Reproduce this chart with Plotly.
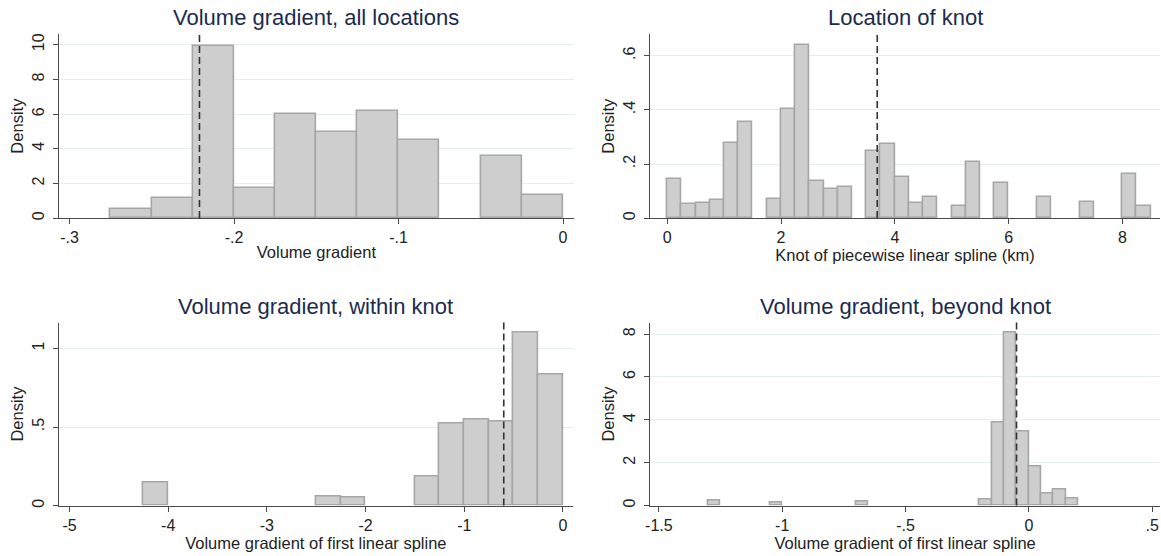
import plotly.graph_objects as go

# ---------------- data ----------------
# Panel 1: Volume gradient, all locations
p1_bin_start = [-0.275, -0.25, -0.225, -0.2, -0.175, -0.15, -0.125, -0.1, -0.05, -0.025]
p1_density = [0.50, 1.15, 9.90, 1.72, 5.97, 4.97, 6.19, 4.51, 3.56, 1.30]
p1_bin_width = 0.025
p1_median = -0.221

# Panel 2: Location of knot
p2_bin_start = [0, 0.25, 0.5, 0.75, 1.0, 1.25, 1.75, 2.0, 2.25, 2.5, 2.75, 3.0,
                3.5, 3.75, 4.0, 4.25, 4.5, 5.0, 5.25, 5.75, 6.5, 7.25, 8.0, 8.25]
p2_density = [0.146, 0.051, 0.055, 0.065, 0.278, 0.355, 0.072, 0.402, 0.639, 0.135, 0.109, 0.116,
              0.248, 0.275, 0.150, 0.057, 0.076, 0.044, 0.208, 0.128, 0.076, 0.059, 0.161, 0.043]
p2_bin_width = 0.25
p2_median = 3.69

# Panel 3: Volume gradient, within knot
p3_bin_start = [-4.25, -2.5, -2.25, -1.5, -1.25, -1.0, -0.75, -0.5, -0.25]
p3_density = [0.146, 0.057, 0.049, 0.184, 0.525, 0.549, 0.536, 1.099, 0.835]
p3_bin_width = 0.25
p3_median = -0.6

# Panel 4: Volume gradient, beyond knot
p4_bin_start = [-1.3, -1.05, -0.7, -0.2, -0.15, -0.1, -0.05, 0.0, 0.05, 0.1, 0.15]
p4_density = [0.22, 0.13, 0.18, 0.26, 3.87, 8.06, 3.47, 1.81, 0.54, 0.76, 0.34]
p4_bin_width = 0.05
p4_median = -0.05

titles = ["Volume gradient, all locations", "Location of knot",
          "Volume gradient, within knot", "Volume gradient, beyond knot"]
x_titles = ["Volume gradient", "Knot of piecewise linear spline (km)",
            "Volume gradient of first linear spline", "Volume gradient of first linear spline"]
y_title = "Density"

p1_xtickvals = [-0.3, -0.2, -0.1, 0]
p1_xticktext = ["-.3", "-.2", "-.1", "0"]
p1_ytickvals = [0, 2, 4, 6, 8, 10]
p1_yticktext = ["0", "2", "4", "6", "8", "10"]

p2_xtickvals = [0, 2, 4, 6, 8]
p2_xticktext = ["0", "2", "4", "6", "8"]
p2_ytickvals = [0, 0.2, 0.4, 0.6]
p2_yticktext = ["0", ".2", ".4", ".6"]

p3_xtickvals = [-5, -4, -3, -2, -1, 0]
p3_xticktext = ["-5", "-4", "-3", "-2", "-1", "0"]
p3_ytickvals = [0, 0.5, 1]
p3_yticktext = ["0", ".5", "1"]

p4_xtickvals = [-1.5, -1, -0.5, 0, 0.5]
p4_xticktext = ["-1.5", "-1", "-.5", "0", ".5"]
p4_ytickvals = [0, 2, 4, 6, 8]
p4_yticktext = ["0", "2", "4", "6", "8"]

# ---------------- styling / layout ----------------
W, H = 1161, 556
FONT = "Liberation Sans, Arial, Helvetica, sans-serif"
BAR_FILL = "#cecece"
BAR_LINE = "#a6a6a6"
AXIS_COL = "#4a4a4a"
GRID_COL = "#e6eef0"
TITLE_COL = "#1c2b4d"
TEXT_COL = "#222222"
TICK_SIZE = 16
AXT_SIZE = 16.5
TITLE_SIZE = 22

# pixel geometry of plot areas (left, right, top, bottom)
areas = [(54.4, 571.0, 33.3, 218.3), (648.0, 1160.0, 33.3, 218.3),
         (54.4, 570.0, 323.3, 507.3), (648.0, 1160.0, 323.3, 507.3)]
x_ranges = [[-0.3063, 0.0064], [-0.30, 8.66], [-5.105, 0.097], [-1.535, 0.5315]]
y_ranges = [[0, 10.61], [0, 0.68], [0, 1.165], [0, 8.54]]

panels = [
    (p1_bin_start, p1_density, p1_bin_width, p1_median, p1_xtickvals, p1_xticktext, p1_ytickvals, p1_yticktext),
    (p2_bin_start, p2_density, p2_bin_width, p2_median, p2_xtickvals, p2_xticktext, p2_ytickvals, p2_yticktext),
    (p3_bin_start, p3_density, p3_bin_width, p3_median, p3_xtickvals, p3_xticktext, p3_ytickvals, p3_yticktext),
    (p4_bin_start, p4_density, p4_bin_width, p4_median, p4_xtickvals, p4_xticktext, p4_ytickvals, p4_yticktext),
]

fig = go.Figure()
layout = dict(
    width=W, height=H,
    margin=dict(l=0, r=0, t=0, b=0),
    paper_bgcolor="white", plot_bgcolor="white",
    showlegend=False,
    font=dict(family=FONT, size=15, color=TEXT_COL),
    bargap=0,
    shapes=[], annotations=[],
)

for i, (starts, dens, bw, med, xtv, xtt, ytv, ytt) in enumerate(panels):
    k = i + 1
    xa = "x" if k == 1 else f"x{k}"
    ya = "y" if k == 1 else f"y{k}"
    xkey = "xaxis" if k == 1 else f"xaxis{k}"
    ykey = "yaxis" if k == 1 else f"yaxis{k}"
    left, right, top, bottom = areas[i]

    fig.add_trace(go.Bar(
        x=starts, y=dens, width=[bw] * len(starts), offset=0,
        marker=dict(color=BAR_FILL, line=dict(color=BAR_LINE, width=1.6)),
        xaxis=xa, yaxis=ya, hoverinfo="x+y",
    ))

    layout[xkey] = dict(
        domain=[left / W, right / W], anchor=ya, range=x_ranges[i],
        tickmode="array", tickvals=xtv, ticktext=xtt,
        showgrid=False, zeroline=False,
        showline=True, linecolor=AXIS_COL, linewidth=1.3,
        ticks="outside", ticklen=5, tickwidth=1.3, tickcolor=AXIS_COL,
        tickfont=dict(size=TICK_SIZE, color=TEXT_COL, family=FONT),
        title=dict(text=x_titles[i], font=dict(size=AXT_SIZE, color=TEXT_COL, family=FONT), standoff=0),
        fixedrange=True,
    )
    layout[ykey] = dict(
        domain=[1 - bottom / H, 1 - top / H], anchor=xa, range=y_ranges[i],
        tickmode="array", tickvals=ytv, ticktext=ytt, tickangle=-90,
        showgrid=True, gridcolor=GRID_COL, gridwidth=1, zeroline=False,
        showline=True, linecolor=AXIS_COL, linewidth=1.3,
        ticks="outside", ticklen=5, tickwidth=1.3, tickcolor=AXIS_COL,
        tickfont=dict(size=TICK_SIZE, color=TEXT_COL, family=FONT),
        ticklabelstandoff=3,
        title=dict(text=y_title, font=dict(size=AXT_SIZE, color=TEXT_COL, family=FONT), standoff=1),
        fixedrange=True,
    )

    # median (dashed) line spanning the full plot height
    layout["shapes"].append(dict(
        type="line", xref=xa, yref=f"{ya} domain", x0=med, x1=med, y0=0, y1=1,
        line=dict(color="#333333", width=1.6, dash="7px,4px"), layer="above",
    ))
    # panel title
    layout["annotations"].append(dict(
        text=titles[i], xref="paper", yref="paper",
        x=(left + right) / 2 / W, y=1 - (top - 16.5) / H,
        xanchor="center", yanchor="middle", showarrow=False,
        font=dict(size=TITLE_SIZE, color=TITLE_COL, family=FONT),
    ))

fig.update_layout(**layout)
fig.write_html(
    "out.html",
    config={"displayModeBar": False, "staticPlot": False},
    post_script="document.body.style.margin='0px';document.body.style.overflow='hidden';",
)
